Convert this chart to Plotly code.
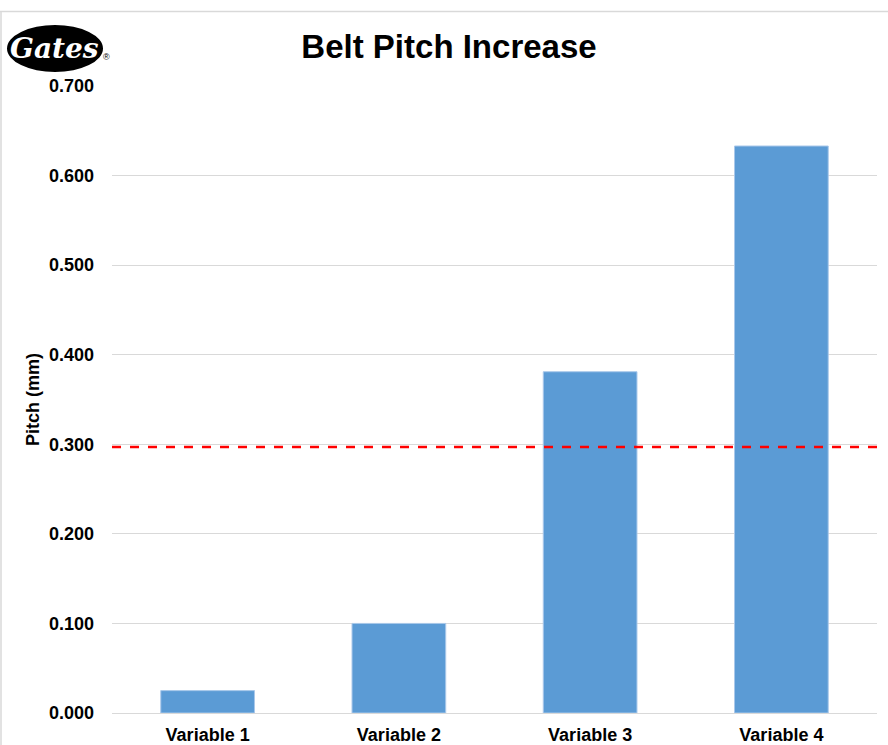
import plotly.graph_objects as go

categories = ["Variable 1", "Variable 2", "Variable 3", "Variable 4"]
pitch_values = [0.025, 0.100, 0.381, 0.633]
limit_value = 0.297
y_ticks = [0.0, 0.1, 0.2, 0.3, 0.4, 0.5, 0.6, 0.7]

W, H = 888, 745
ML, MR, MT, MB = 112, 11, 86, 32
PW, PH = W - ML - MR, H - MT - MB

def px_x(x):
    return (x - ML) / PW

def px_y(y):
    return (H - MB - y) / PH

FONT = "Liberation Sans, Arial, sans-serif"

fig = go.Figure()
fig.add_trace(go.Bar(
    x=categories, y=pitch_values,
    marker=dict(color="#5b9bd5", line=dict(color="#a9c8ea", width=1)),
    width=0.49,
    showlegend=False,
))

shapes = [
    # limit line
    dict(type="line", xref="paper", yref="y", x0=0, x1=1, y0=limit_value, y1=limit_value,
         line=dict(color="#ff0000", width=2.5, dash="dash")),
    # chart border (top and left)
    dict(type="line", xref="paper", yref="paper", x0=px_x(0), x1=px_x(W), y0=px_y(11.5), y1=px_y(11.5),
         line=dict(color="#d9d9d9", width=1.5)),
    dict(type="line", xref="paper", yref="paper", x0=px_x(1), x1=px_x(1), y0=px_y(11.5), y1=px_y(H),
         line=dict(color="#d9d9d9", width=1.5)),
    # logo ellipse
    dict(type="circle", xref="paper", yref="paper", x0=px_x(7), x1=px_x(103), y0=px_y(72), y1=px_y(25),
         fillcolor="#000000", line=dict(color="#000000", width=0)),
]

annotations = [
    dict(text="<b>Gates</b>", xref="paper", yref="paper", x=px_x(54), y=px_y(48), showarrow=False,
         font=dict(family="DejaVu Serif, serif", size=28, color="#ffffff", style="italic"),
         xanchor="center", yanchor="middle"),
    dict(text="®", xref="paper", yref="paper", x=px_x(106), y=px_y(57), showarrow=False,
         font=dict(family=FONT, size=9, color="#000000"), xanchor="center", yanchor="middle"),
]

fig.update_layout(
    width=W, height=H,
    margin=dict(l=ML, r=MR, t=MT, b=MB),
    paper_bgcolor="#ffffff", plot_bgcolor="#ffffff",
    title=dict(text="<b>Belt Pitch Increase</b>", x=449 / W, xanchor="center",
               y=1 - 46 / H, yanchor="middle", yref="container",
               font=dict(family=FONT, size=33, color="#000000")),
    bargap=0.51,
    shapes=shapes,
    annotations=annotations,
    font=dict(family=FONT, color="#000000"),
)
fig.update_xaxes(
    tickfont=dict(family=FONT, size=18, color="#000000", weight="bold"),
    showgrid=False, showline=False, ticks="", ticklabelstandoff=9, automargin=False,
)
fig.update_yaxes(
    range=[0, 0.7], tickvals=y_ticks, tickformat=".3f",
    tickfont=dict(family=FONT, size=18, color="#000000", weight="bold"),
    gridcolor="#d9d9d9", gridwidth=1, zeroline=True, zerolinecolor="#d9d9d9", zerolinewidth=1,
    showline=False, ticks="", ticklabelstandoff=17, automargin=False,
    title=dict(text="<b>Pitch (mm)</b>", font=dict(family=FONT, size=18, color="#000000"), standoff=4),
)

fig.write_html("out.html", config={"displayModeBar": False},
               post_script="document.body.style.margin='0';document.body.style.padding='0';document.body.style.overflow='hidden';")
